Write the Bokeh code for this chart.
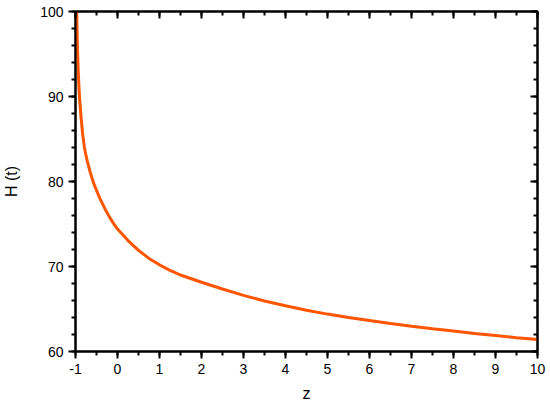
from bokeh.plotting import figure
from bokeh.models import LinearAxis, SingleIntervalTicker, Range1d, CustomJSTickFormatter
from bokeh.embed import file_html
from bokeh.resources import INLINE

z_values = [-0.972, -0.965, -0.955, -0.94, -0.92, -0.9, -0.87, -0.83, -0.79, -0.76,
            -0.72, -0.65, -0.58, -0.52, -0.45, -0.4, -0.3, -0.2, -0.1, 0.0,
            0.25, 0.5, 0.75, 1.0, 1.25, 1.5, 2.0, 2.5, 3.0, 3.5, 4.0, 4.5, 5.0, 5.5,
            6.0, 6.5, 7.0, 7.5, 8.0, 8.5, 9.0, 9.5, 10.0]
h_values = [100.3, 98.3, 96.0, 93.6, 91.3, 89.6, 87.7, 85.6, 84.1, 83.3,
            82.4, 81.1, 79.95, 79.2, 78.35, 77.8, 76.8, 75.9, 75.1, 74.4,
            73.05, 71.9, 70.95, 70.2, 69.55, 69.0, 68.15, 67.35, 66.6, 65.95, 65.38, 64.86, 64.4, 64.0,
            63.65, 63.3, 62.98, 62.68, 62.4, 62.13, 61.88, 61.63, 61.4]

x_label = "z"
y_label = "H (t)"

FONT = "Liberation Sans"

p = figure(frame_width=462, frame_height=340, output_backend="svg", toolbar_location=None,
           x_range=Range1d(-1, 10), y_range=Range1d(60, 100),
           min_border_left=69, min_border_right=11, min_border_top=11, min_border_bottom=50,
           x_axis_label=x_label, y_axis_label=y_label)
p.background_fill_color = "white"
p.border_fill_color = "white"
p.outline_line_color = "black"
p.outline_line_width = 2
p.grid.visible = False

p.line(z_values, h_values, line_color="#FF5500", line_width=3)

p.xaxis.ticker = SingleIntervalTicker(interval=1, num_minor_ticks=2)
p.yaxis.ticker = SingleIntervalTicker(interval=10, num_minor_ticks=5)
p.xaxis.major_label_overrides = {-1: "-1"}

for ax in (p.xaxis[0], p.yaxis[0]):
    ax.axis_line_width = 2
    ax.major_tick_line_width = 2
    ax.minor_tick_line_width = 2
    ax.major_tick_in = 0
    ax.major_tick_out = 7
    ax.minor_tick_in = 0
    ax.minor_tick_out = 4
    ax.major_label_text_font = FONT
    ax.major_label_text_font_size = "14px"
    ax.major_label_text_color = "black"
    ax.major_label_standoff = 5
    ax.axis_label_text_font = FONT
    ax.axis_label_text_font_size = "16px"
    ax.axis_label_text_font_style = "normal"
    ax.axis_label_text_color = "black"

p.xaxis[0].axis_label_standoff = 8
p.yaxis[0].axis_label_standoff = 17

blank = CustomJSTickFormatter(code="return ''")
top = LinearAxis(ticker=SingleIntervalTicker(interval=1, num_minor_ticks=2), formatter=blank)
right = LinearAxis(ticker=SingleIntervalTicker(interval=10, num_minor_ticks=5), formatter=blank)
for ax in (top, right):
    ax.axis_line_width = 2
    ax.major_tick_line_width = 2
    ax.minor_tick_line_width = 2
    ax.major_tick_in = 7
    ax.major_tick_out = 0
    ax.minor_tick_in = 4
    ax.minor_tick_out = 0
    ax.major_label_standoff = 0
p.add_layout(top, "above")
p.add_layout(right, "right")

open("out.html", "w").write(file_html(p, INLINE))
